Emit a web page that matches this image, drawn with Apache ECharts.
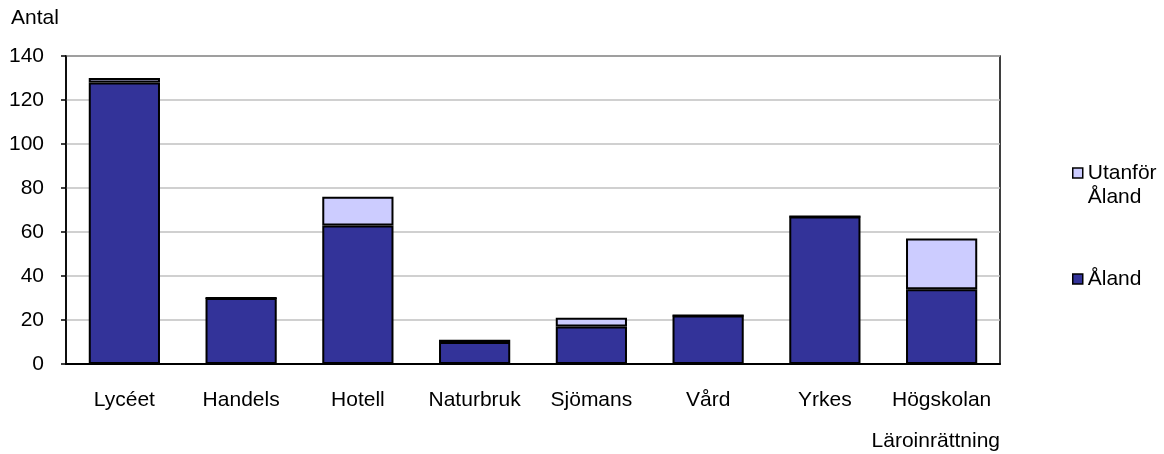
<!DOCTYPE html>
<html>
<head>
<meta charset="utf-8">
<script src="https://cdn.jsdelivr.net/npm/echarts@6/dist/echarts.min.js"></script>
<style>html,body{margin:0;padding:0;background:#fff;}#c{width:1164px;height:454px;}</style>
</head>
<body>
<div id="c"></div>
<script>
const categories = ['Lycéet', 'Handels', 'Hotell', 'Naturbruk', 'Sjömans', 'Vård', 'Yrkes', 'Högskolan'];
const aland = [128, 30, 63, 10, 17, 22, 67, 34];
const utanfor = [2, 0, 13, 1, 4, 0, 0, 23];
const yTicks = [0, 20, 40, 60, 80, 100, 120, 140];

const FONT = 'Liberation Sans, Arial, sans-serif';
const FS = 21;
const chart = echarts.init(document.getElementById('c'));
chart.setOption({
  animation: false,
  backgroundColor: '#fff',
  textStyle: { fontFamily: FONT, color: '#000' },
  grid: { left: 66, right: 164, top: 56, bottom: 90, show: true, borderColor: '#000', borderWidth: 1.5, backgroundColor: 'transparent' },
  legend: [
    {
      orient: 'vertical', left: 1067, top: 132,
      data: ['Utanför Åland'],
      icon: 'rect', itemWidth: 10, itemHeight: 10,
      itemStyle: { borderColor: '#000', borderWidth: 1.5 },
      formatter: () => '\nUtanför\nÅland',
      textStyle: { fontFamily: FONT, fontSize: FS, color: '#000', lineHeight: 24 }
    },
    {
      orient: 'vertical', left: 1067, top: 262,
      data: ['Åland'],
      icon: 'rect', itemWidth: 10, itemHeight: 10,
      itemStyle: { borderColor: '#000', borderWidth: 1.5 },
      textStyle: { fontFamily: FONT, fontSize: FS, color: '#000', lineHeight: 24 }
    }
  ],
  xAxis: {
    type: 'category',
    data: categories,
    axisLine: { lineStyle: { color: '#000', width: 2 } },
    axisTick: { show: false },
    axisLabel: { interval: 0, fontFamily: FONT, fontSize: FS, color: '#000', margin: 26 }
  },
  yAxis: {
    type: 'value', min: yTicks[0], max: yTicks[yTicks.length - 1], interval: 20,
    axisLine: { show: true, lineStyle: { color: '#000', width: 1.5 } },
    axisTick: { show: true, length: 5, lineStyle: { color: '#000', width: 1.5 } },
    axisLabel: { fontFamily: FONT, fontSize: FS, color: '#000', margin: 22 },
    splitLine: { lineStyle: { color: '#c0c0c0', width: 1.5 } }
  },
  graphic: [
    { type: 'text', left: 11, top: 8, style: { text: 'Antal', font: FS + 'px ' + FONT, fill: '#000' } },
    { type: 'text', right: 164, top: 431, style: { text: 'Läroinrättning', font: FS + 'px ' + FONT, fill: '#000' } }
  ],
  series: [
    {
      name: 'Åland', type: 'bar', stack: 's', data: aland,
      barWidth: '61%',
      itemStyle: { color: '#333399', borderColor: '#000', borderWidth: 2 }
    },
    {
      name: 'Utanför Åland', type: 'bar', stack: 's', data: utanfor,
      itemStyle: { color: '#ccccff', borderColor: '#000', borderWidth: 2 }
    }
  ]
});
</script>
</body>
</html>
